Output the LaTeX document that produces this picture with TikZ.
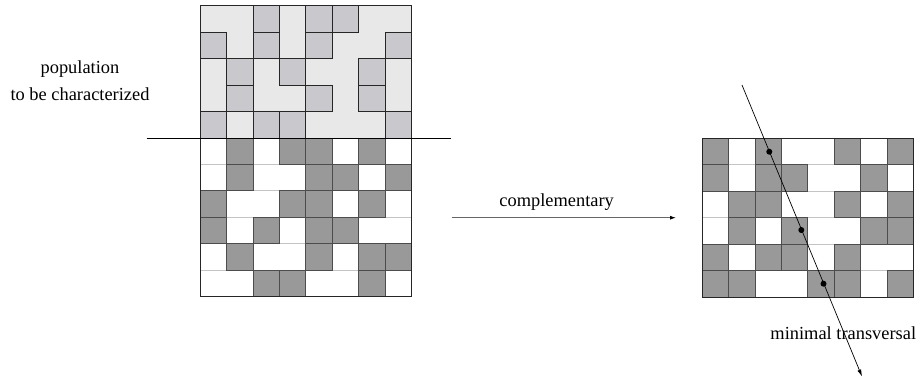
\documentclass[tikz,border=0pt]{standalone}
\usepackage{fontspec}
\setmainfont{Liberation Serif}
\usetikzlibrary{arrows.meta}
\definecolor{bgtop}{HTML}{E8E8E8}
\definecolor{celltop}{HTML}{C9C9CD}
\definecolor{celldark}{HTML}{999999}
\definecolor{rowline}{HTML}{C4C4C4}
\tikzset{
  topcell/.style={fill=celltop,draw=black!85,line width=0.8pt},
  darkcell/.style={fill=celldark,draw=black!70,line width=0.8pt},
  frame/.style={draw=black!85,line width=0.8pt},
  rowsep/.style={draw=rowline,line width=0.8pt},
  label/.style={font=\fontsize{18.4}{27}\selectfont,align=center,inner sep=0pt},
  conn/.style={draw=black!60,line width=0.9pt,-{Latex[length=6pt,width=4pt,black]}},
  trans/.style={draw=black,line width=0.7pt,-{Latex[length=7pt,width=4pt]}},
  hit/.style={circle,fill=black,inner sep=0pt,minimum size=6pt}
}
\begin{document}
\begin{tikzpicture}[x=1pt,y=-1pt]
\useasboundingbox (0,0) rectangle (922,381);
% ---------- left grid: top part ----------
\def\lx{200}\def\ly{5.7}\def\cw{26.46}\def\ch{26.45}
\fill[bgtop] (\lx,\ly) rectangle ++({8*\cw},{5*\ch});
\foreach \row [count=\r from 0] in {{0,0,1,0,1,1,0,0},{1,0,1,0,1,0,0,1},{0,1,0,1,0,0,1,0},{0,1,0,0,1,0,1,0},{1,0,1,1,0,0,0,1}}{
  \foreach \v [count=\c from 0] in \row {
    \ifnum\v=1
      \path[topcell] ({\lx+\c*\cw},{\ly+\r*\ch}) rectangle ++(\cw,\ch);
    \fi
  }
}
% ---------- left grid: bottom part ----------
\foreach \r in {6,...,10}{
  \path[rowsep] ({\lx},{\ly+\r*\ch}) -- ++({8*\cw},0);
}
\foreach \row [count=\r from 5] in {{0,1,0,1,1,0,1,0},{0,1,0,0,1,1,0,1},{1,0,0,1,1,0,1,0},{1,0,1,0,1,1,0,0},{0,1,0,0,1,0,1,1},{0,0,1,1,0,0,1,0}}{
  \foreach \v [count=\c from 0] in \row {
    \ifnum\v=1
      \path[darkcell] ({\lx+\c*\cw},{\ly+\r*\ch}) rectangle ++(\cw,\ch);
    \fi
  }
}
\path[frame] (\lx,\ly) rectangle ++({8*\cw},{11*\ch});
\coordinate (cutL) at (146.7,138.3);
\coordinate (cutR) at (451,138.3);
\draw[black,line width=0.9pt] (cutL) -- (cutR);
% ---------- right grid: complement ----------
\def\rx{702.3}\def\ry{138.3}\def\rw{26.375}
\foreach \r in {1,...,5}{
  \path[rowsep] ({\rx},{\ry+\r*\ch}) -- ++({8*\rw},0);
}
\foreach \row [count=\r from 0] in {{0,1,0,1,1,0,1,0},{0,1,0,0,1,1,0,1},{1,0,0,1,1,0,1,0},{1,0,1,0,1,1,0,0},{0,1,0,0,1,0,1,1},{0,0,1,1,0,0,1,0}}{
  \foreach \v [count=\c from 0] in \row {
    \ifnum\v=0
      \path[darkcell] ({\rx+\c*\rw},{\ry+\r*\ch}) rectangle ++(\rw,\ch);
    \fi
  }
}
\path[frame] (\rx,\ry) rectangle ++({8*\rw},{6*\ch});
% ---------- labels ----------
\node[label] (pop) at (80,80.5) {population\\to be characterized};
\coordinate (cs) at (451.7,217.7);
\coordinate (ce) at (676,217.7);
\path[conn] (cs) -- (ce);
\node[label] (comp) at (556.7,201.7) {complementary};
% ---------- transversal ----------
\coordinate (ts) at (742,85);
\coordinate (te) at (862,376.5);
\path[trans] (ts) -- (te);
\node[hit] (h1) at (769.3,151.7) {};
\node[hit] (h2) at (801.3,230) {};
\node[hit] (h3) at (823.5,283.7) {};
\node[label] (mt) at (843.3,333.3) {minimal transversal};
\end{tikzpicture}
\end{document}
